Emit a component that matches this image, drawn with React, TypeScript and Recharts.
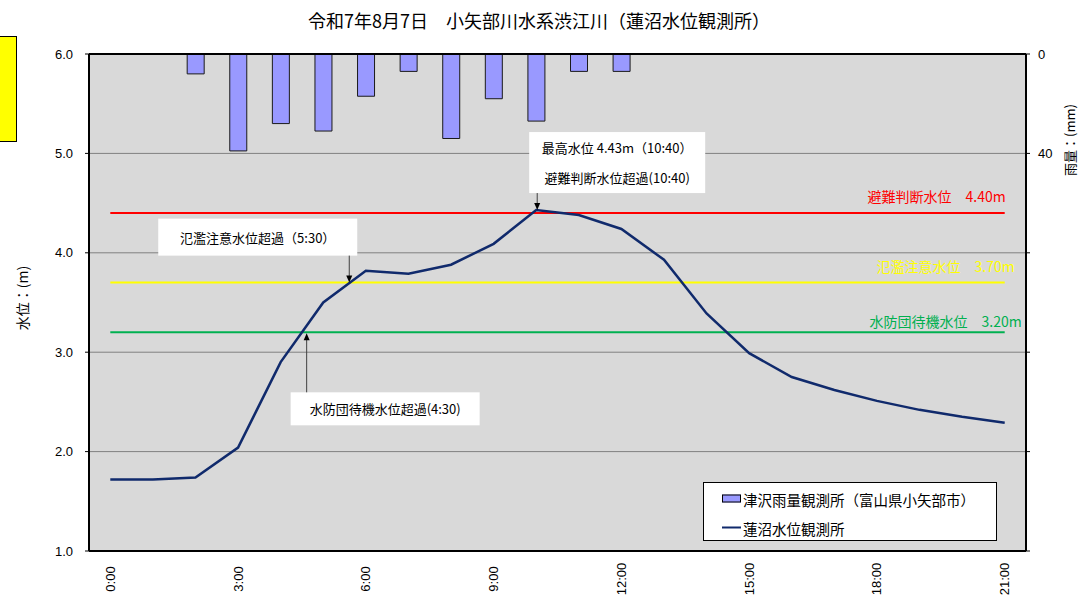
import React from "react";
import {
  ComposedChart,
  Bar,
  Line,
  XAxis,
  YAxis,
  CartesianGrid,
  ReferenceLine,
  ReferenceDot,
} from "recharts";

// hourly observations, 2025-08-07
const hours = [
  "0:00", "1:00", "2:00", "3:00", "4:00", "5:00", "6:00", "7:00", "8:00", "9:00", "10:00",
  "11:00", "12:00", "13:00", "14:00", "15:00", "16:00", "17:00", "18:00", "19:00", "20:00", "21:00",
];
const rainfall = [0, 0, 8, 39, 28, 31, 17, 7, 34, 18, 27, 7, 7, 0, 0, 0, 0, 0, 0, 0, 0, 0];
const waterLevel = [
  1.72, 1.72, 1.74, 2.04, 2.9, 3.5, 3.82, 3.79, 3.88, 4.09, 4.43,
  4.38, 4.24, 3.93, 3.39, 2.99, 2.75, 2.62, 2.51, 2.42, 2.35, 2.29,
];

const levelTicks = [1, 2, 3, 4, 5, 6];
const rainTicks = [0, 40, 80, 120, 160, 200];
const rainTickLabels = [0, 40];

const judgeLevel = 4.4;
const floodLevel = 3.7;
const standbyLevel = 3.2;
const peakLevel = 4.43;

const thresholds = [
  { name: "避難判断水位", value: judgeLevel, color: "#ff0000", dx: 1, dy: -17 },
  { name: "氾濫注意水位", value: floodLevel, color: "#ffff00", dx: 10, dy: -17 },
  { name: "水防団待機水位", value: standbyLevel, color: "#00b050", dx: 17, dy: -11 },
];

const data = hours.map((time, i) => ({ time, rain: rainfall[i], level: waterLevel[i] }));

const FONT = "'Liberation Sans', 'Noto Sans CJK JP', sans-serif";
const JP = "'Noto Sans CJK JP', sans-serif";
const LINE_COLOR = "#102a6c";
const BAR_COLOR = "#9999ff";

const XTick = ({ x, y, payload }: any) => (
  <text
    transform={`translate(${x},${y + 26}) rotate(-90)`}
    textAnchor="middle"
    dominantBaseline="central"
    fontSize={13}
    fontFamily={FONT}
    fill="#000"
  >
    {payload.value}
  </text>
);

const Arrow = ({ x, y1, y2 }: { x: number; y1: number; y2: number }) => {
  const dir = y2 > y1 ? 1 : -1;
  return (
    <g>
      <line x1={x} y1={y1} x2={x} y2={y2 - dir * 6} stroke="#404040" strokeWidth={1} />
      <polygon points={`${x - 3},${y2 - dir * 7} ${x + 3},${y2 - dir * 7} ${x},${y2}`} fill="#000" />
    </g>
  );
};

const NoteBox = ({ x, y, w, h, lines }: any) => (
  <g>
    <rect x={x} y={y} width={w} height={h} fill="#fff" />
    {lines.map((t: string, i: number) => (
      <text
        key={i}
        x={x + w / 2}
        y={y + (h / lines.length) * (i + 0.5)}
        textAnchor="middle"
        dominantBaseline="central"
        fontSize={13}
        fontFamily={JP}
        fill="#000"
      >
        {t}
      </text>
    ))}
  </g>
);

const PeakNote = ({ cx, cy }: any) => (
  <g>
    <NoteBox
      x={cx - 7}
      y={cy - 78}
      w={176}
      h={61}
      lines={[`最高水位 ${peakLevel.toFixed(2)}m（10:40）`, "避難判断水位超過(10:40)"]}
    />
    <Arrow x={cx + 1} y1={cy - 17} y2={cy} />
  </g>
);

const FloodNote = ({ cx, cy }: any) => (
  <g>
    <NoteBox x={cx - 165} y={cy - 64} w={199} h={37} lines={["氾濫注意水位超過（5:30）"]} />
    <Arrow x={cx + 26} y1={cy - 27} y2={cy} />
  </g>
);

const StandbyNote = ({ cx, cy }: any) => (
  <g>
    <NoteBox x={cx + 10} y={cy + 60} w={189} h={33} lines={["水防団待機水位超過(4:30)"]} />
    <Arrow x={cx + 26} y1={cy + 60} y2={cy + 1} />
  </g>
);

const thresholdLabel = (t: (typeof thresholds)[number]) => (props: any) => {
  const vb = props.viewBox;
  if (!vb) return null;
  return (
    <text
      x={vb.x + vb.width + t.dx}
      y={vb.y + t.dy}
      textAnchor="end"
      dominantBaseline="central"
      fontSize={14}
      fontFamily={JP}
      fill={t.color}
    >
      {`${t.name}　${t.value.toFixed(2)}m`}
    </text>
  );
};

export default function App() {
  return (
    <div
      style={{
        position: "absolute",
        left: 0,
        top: 0,
        width: 1078,
        height: 596,
        background: "#fff",
        fontFamily: FONT,
        overflow: "hidden",
      }}
    >
      <div
        style={{
          position: "absolute",
          left: -5,
          top: 36,
          width: 20,
          height: 104,
          background: "#ffff00",
          border: "1.5px solid #000",
        }}
      />
      <div
        style={{
          position: "absolute",
          left: 539,
          top: 20,
          transform: "translate(-50%,-50%)",
          whiteSpace: "nowrap",
          fontSize: 18,
          fontFamily: JP,
        }}
      >
        令和7年8月7日　小矢部川水系渋江川（蓮沼水位観測所）
      </div>
      <div
        style={{
          position: "absolute",
          left: 22,
          top: 298,
          transform: "translate(-50%,-50%) rotate(-90deg)",
          whiteSpace: "nowrap",
          fontSize: 14,
          fontFamily: JP,
        }}
      >
        水位：(m)
      </div>
      <div
        style={{
          position: "absolute",
          left: 1069,
          top: 140,
          transform: "translate(-50%,-50%) rotate(-90deg)",
          whiteSpace: "nowrap",
          fontSize: 13,
          fontFamily: JP,
        }}
      >
        雨量：(mm)
      </div>

      <ComposedChart
        width={1078}
        height={596}
        data={data}
        margin={{ top: 54, right: 0, bottom: 0, left: 0 }}
        style={{ position: "absolute", left: 0, top: 0 }}
      >
        <CartesianGrid horizontal vertical={false} fill="#d9d9d9" stroke="#808080" strokeWidth={1} yAxisId="level" />
        <XAxis
          dataKey="time"
          interval={2}
          height={45}
          tickLine={false}
          tickSize={0}
          tick={<XTick />}
          axisLine={{ stroke: "#000", strokeWidth: 2 }}
        />
        <YAxis
          yAxisId="level"
          domain={[1, 6]}
          ticks={levelTicks}
          width={89}
          tickSize={4}
          tickMargin={12}
          tickFormatter={(v: number) => v.toFixed(1)}
          tick={{ fontSize: 13, fill: "#000", fontFamily: FONT }}
          tickLine={{ stroke: "#000" }}
          axisLine={{ stroke: "#000", strokeWidth: 2 }}
        />
        <YAxis
          yAxisId="rain"
          orientation="right"
          reversed
          domain={[0, 200]}
          ticks={rainTicks}
          width={52}
          tickSize={4}
          tickMargin={8}
          tickFormatter={(v: number) => (rainTickLabels.includes(v) ? String(v) : "")}
          tick={{ fontSize: 13, fill: "#000", fontFamily: FONT, textAnchor: "start" }}
          tickLine={{ stroke: "#000" }}
          axisLine={{ stroke: "#000", strokeWidth: 2 }}
        />
        <ReferenceLine yAxisId="level" y={6} stroke="#000" strokeWidth={2} />
        <Bar
          yAxisId="rain"
          dataKey="rain"
          barSize={17}
          fill={BAR_COLOR}
          stroke="#1a1a1a"
          strokeWidth={1}
          isAnimationActive={false}
        />
        {thresholds.map((t) => (
          <ReferenceLine
            key={t.name}
            yAxisId="level"
            segment={[
              { x: hours[0], y: t.value },
              { x: hours[hours.length - 1], y: t.value },
            ]}
            stroke={t.color}
            strokeWidth={2}
            label={thresholdLabel(t)}
          />
        ))}
        <Line
          yAxisId="level"
          dataKey="level"
          stroke={LINE_COLOR}
          strokeWidth={2.5}
          dot={false}
          type="linear"
          isAnimationActive={false}
        />
        <ReferenceDot yAxisId="level" x="10:00" y={peakLevel} r={0} shape={<PeakNote />} />
        <ReferenceDot yAxisId="level" x="5:00" y={floodLevel} r={0} shape={<FloodNote />} />
        <ReferenceDot yAxisId="level" x="4:00" y={standbyLevel} r={0} shape={<StandbyNote />} />
      </ComposedChart>

      <div
        style={{
          position: "absolute",
          left: 703,
          top: 482,
          width: 294,
          height: 59,
          boxSizing: "border-box",
          border: "1px solid #000",
          background: "#fff",
          fontFamily: JP,
          fontSize: 14.5,
        }}
      >
        <div style={{ position: "absolute", left: 18, top: 15.5, transform: "translateY(-50%)", display: "flex", alignItems: "center", whiteSpace: "nowrap" }}>
          <span style={{ display: "inline-block", width: 17, height: 6, background: BAR_COLOR, border: "1px solid #000", marginRight: 2 }} />
          津沢雨量観測所（富山県小矢部市）
        </div>
        <div style={{ position: "absolute", left: 18, top: 44.5, transform: "translateY(-50%)", display: "flex", alignItems: "center", whiteSpace: "nowrap" }}>
          <span style={{ display: "inline-block", width: 19, height: 2.5, background: LINE_COLOR, marginRight: 2 }} />
          蓮沼水位観測所
        </div>
      </div>
    </div>
  );
}
